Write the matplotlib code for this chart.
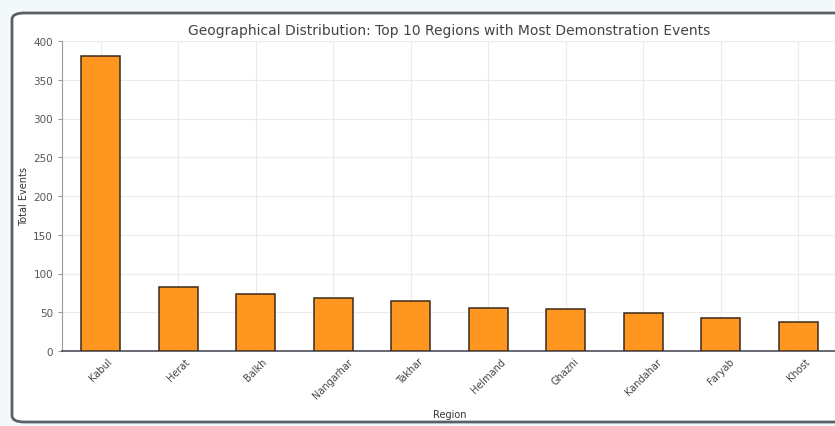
import matplotlib.pyplot as plt
from matplotlib.patches import FancyBboxPatch

# data
regions = ["Kabul", "Herat", "Balkh", "Nangarhar", "Takhar",
           "Helmand", "Ghazni", "Kandahar", "Faryab", "Khost"]
events = [381, 83, 73, 69, 64, 55, 54, 49, 43, 38]
yticks = [0, 50, 100, 150, 200, 250, 300, 350, 400]

fig = plt.figure(figsize=(8.35, 4.27), dpi=100, facecolor="#f3f8fb")

# rounded frame around the chart (screenshot-like card)
frame = FancyBboxPatch((12 / 835, 4 / 427), 1.2, 409 / 427,
                       boxstyle="round,pad=0,rounding_size=0.015",
                       transform=fig.transFigure, facecolor="white",
                       edgecolor="#5a6068", linewidth=2, zorder=-10)
fig.patches.append(frame)

ax = fig.add_axes([62 / 835, 1 - 352 / 427, 775 / 835, 310 / 427])
ax.set_zorder(1)
ax.set_facecolor("white")

x = range(len(regions))
ax.bar(x, events, width=0.5, color="#ff961f", edgecolor="#3a2a1a",
       linewidth=1.1, zorder=3)

ax.set_xlim(-0.5, 9.5)
ax.set_ylim(0, 400)
ax.set_yticks(yticks)
ax.set_xticks(list(x))
ax.set_xticklabels(regions, rotation=45, fontsize=7, color="#444444")
ax.tick_params(axis="y", labelsize=7.5, labelcolor="#555555", color="#999999",
               length=3, direction="out")
ax.tick_params(axis="x", color="#999999", length=3, direction="in")

ax.grid(True, color="#ebebeb", linewidth=0.8, zorder=0)
ax.set_axisbelow(True)

for s in ["top", "right"]:
    ax.spines[s].set_visible(False)
ax.spines["left"].set_color("#9a9a9a")
ax.spines["bottom"].set_color("#3c4048")
ax.spines["bottom"].set_linewidth(1.1)

ax.set_title("Geographical Distribution: Top 10 Regions with Most Demonstration Events",
             fontsize=10, color="#444444", pad=5)
ax.set_xlabel("Region", fontsize=7, color="#333333", labelpad=7)
ax.set_ylabel("Total Events", fontsize=7, color="#333333", labelpad=3)

fig.savefig("out.png", dpi=100, facecolor=fig.get_facecolor())
